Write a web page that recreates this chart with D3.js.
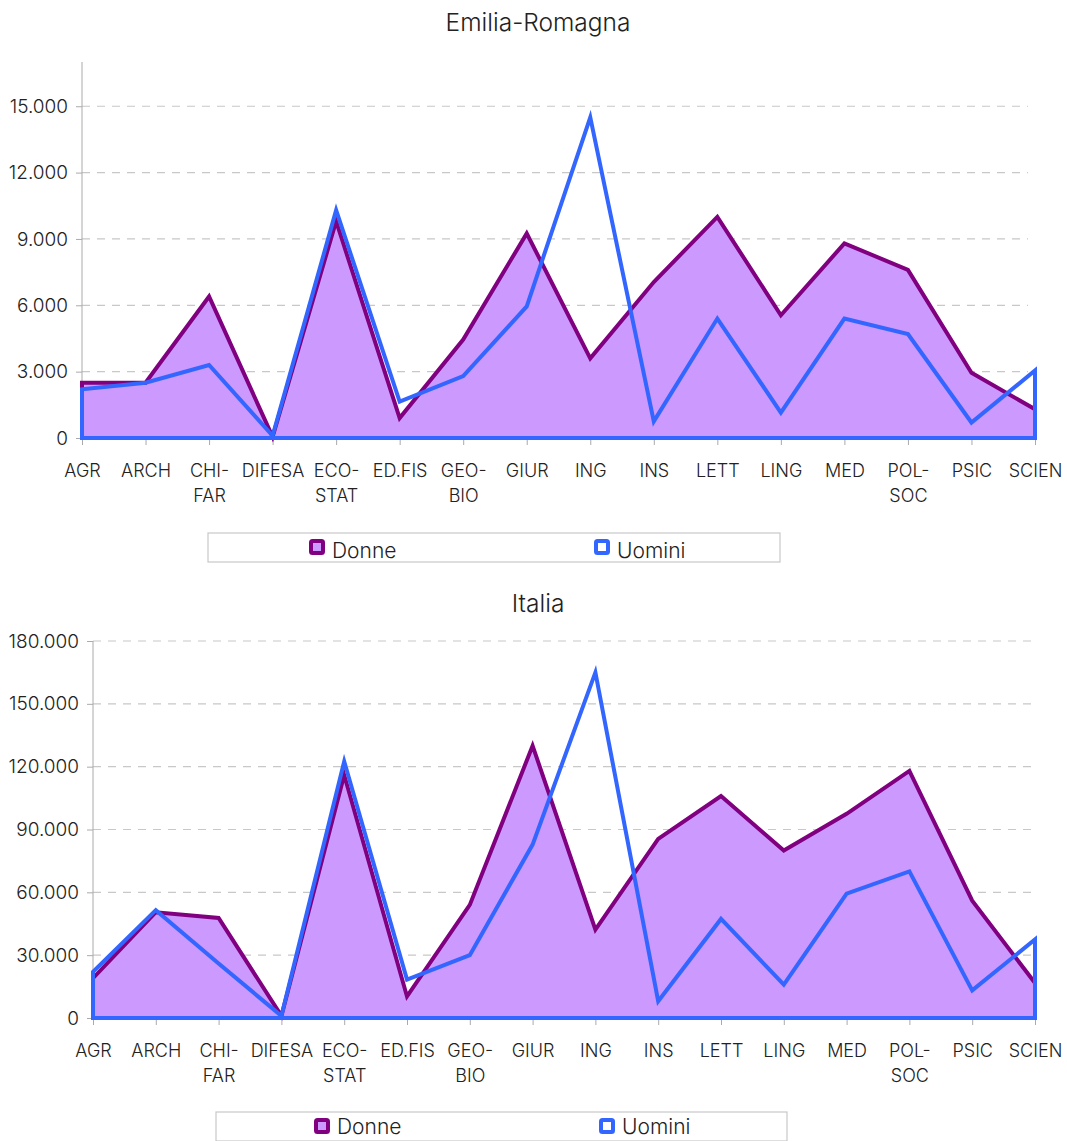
<!DOCTYPE html>
<html><head><meta charset="utf-8">
<script src="https://cdn.jsdelivr.net/npm/d3@7"></script>
<style>
body{margin:0;background:#fff;}
text{font-family:Inter,"Liberation Sans",sans-serif;font-weight:300;fill:#222;}
</style></head>
<body><svg id="c" width="1067" height="1141"></svg>
<script>
const categories = ["AGR","ARCH","CHI-FAR","DIFESA","ECO-STAT","ED.FIS","GEO-BIO","GIUR","ING","INS","LETT","LING","MED","POL-SOC","PSIC","SCIEN"];
const seriesNames = ["Donne","Uomini"];
const erDonne  = [2500,2500,6400,50,9800,900,4450,9250,3600,7050,10000,5550,8800,7600,2950,1300];
const erUomini = [2200,2500,3300,100,10300,1650,2800,5950,14500,750,5400,1150,5400,4700,700,3050];
const itDonne  = [19000,50500,47800,1000,116000,10300,54000,130000,42200,85500,106000,80000,97500,118000,56000,16700];
const itUomini = [22000,51500,26000,1000,122500,18300,30000,82800,165000,8000,47300,15900,59400,70000,13200,37500];
const erTicks = [0,3000,6000,9000,12000,15000];
const itTicks = [0,30000,60000,90000,120000,150000,180000];
const titles = ["Emilia-Romagna","Italia"];

const svg = d3.select("#c");
const fmt = v => d3.format(",")(v).replace(/,/g,".");
const colD = "#800080", fillD = "#cc99ff", colU = "#3366ff";

function chart(cfg){
  const g = svg.append("g");
  const x = d3.scalePoint().domain(categories).range([cfg.x0, cfg.x1]);
  const y = d3.scaleLinear().domain([0, cfg.ymax]).range([cfg.y0, cfg.yTop]);

  g.append("text").attr("x",538).attr("y",cfg.titleY).attr("text-anchor","middle")
    .style("font-size","24.5px").text(cfg.title);

  // gridlines
  g.selectAll(".grid").data(cfg.ticks.slice(1)).join("line")
    .attr("x1",cfg.x0).attr("x2",cfg.gridEnd)
    .attr("y1",d=>y(d)).attr("y2",d=>y(d))
    .attr("stroke","#c8c8c8").attr("stroke-width",1.2).attr("stroke-dasharray","8,7");

  // y axis
  const ya = g.append("g").attr("transform",`translate(${cfg.x0},0)`)
    .call(d3.axisLeft(y).tickValues(cfg.ticks).tickFormat(fmt).tickSize(6).tickPadding(8));
  ya.select(".domain").attr("stroke","#aaa").attr("d",`M0,${cfg.y0}V${cfg.yTop}`);
  ya.selectAll(".tick line").attr("stroke","#aaa");
  ya.selectAll(".tick text").style("font-size","19px").style("font-family","Inter,'Liberation Sans',sans-serif").style("font-weight",300).attr("fill","#222");

  // x axis
  const xa = g.append("g").attr("transform",`translate(0,${cfg.y0})`)
    .call(d3.axisBottom(x).tickSize(7).tickFormat(""));
  xa.select(".domain").attr("stroke","#aaa");
  xa.selectAll(".tick line").attr("stroke","#aaa");
  xa.selectAll(".tick").each(function(d){
    const parts = d.includes("-") ? [d.split("-")[0]+"-", d.split("-")[1]] : [d];
    const t = d3.select(this).append("text").attr("text-anchor","middle")
      .style("font-size","18px").attr("fill","#222");
    parts.forEach((p,i)=>t.append("tspan").attr("x",0).attr("y",39+i*25).text(p));
  });

  const area = d3.area().x((d,i)=>x(categories[i])).y0(y(0)).y1(d=>y(d));
  const closed = data => {
    const pts = data.map((d,i)=>[x(categories[i]),y(d)]);
    return "M"+x(categories[0])+","+y(0)+"L"+pts.map(p=>p.join(",")).join("L")+"L"+x(categories[categories.length-1])+","+y(0)+"Z";
  };
  g.append("path").attr("d",area(cfg.donne)).attr("fill",fillD);
  g.append("path").attr("d",closed(cfg.donne)).attr("fill","none").attr("stroke",colD).attr("stroke-width",4).attr("stroke-linejoin","miter");
  g.append("path").attr("d",closed(cfg.uomini)).attr("fill","none").attr("stroke",colU).attr("stroke-width",4).attr("stroke-linejoin","miter");

  // legend
  const lg = g.append("g");
  lg.append("rect").attr("x",cfg.lx0).attr("y",cfg.ly).attr("width",cfg.lx1-cfg.lx0).attr("height",29)
    .attr("fill","#fff").attr("stroke","#c8c8c8").attr("stroke-width",1.2);
  const items = [{n:seriesNames[0],s:colD,f:fillD,x:cfg.lmD},{n:seriesNames[1],s:colU,f:"#fff",x:cfg.lmU}];
  items.forEach(it=>{
    lg.append("rect").attr("x",it.x+2).attr("y",cfg.ly+8).attr("width",12).attr("height",12).attr("rx",1.5)
      .attr("fill",it.f).attr("stroke",it.s).attr("stroke-width",4);
    lg.append("text").attr("x",it.x+23).attr("y",cfg.ly+cfg.lty).style("font-size","21px").text(it.n);
  });
}

chart({title:titles[0],titleY:31,x0:82,x1:1035,gridEnd:1028,y0:438,yTop:62,ymax:17000,ticks:erTicks,
  donne:erDonne,uomini:erUomini,lx0:208,lx1:780,ly:533,lmD:309,lmU:594,lty:25});
chart({title:titles[1],titleY:612,x0:93,x1:1035,gridEnd:1035,y0:1018,yTop:641,ymax:180000,ticks:itTicks,
  donne:itDonne,uomini:itUomini,lx0:216,lx1:787,ly:1112,lmD:314,lmU:599,lty:22});
</script></body></html>
